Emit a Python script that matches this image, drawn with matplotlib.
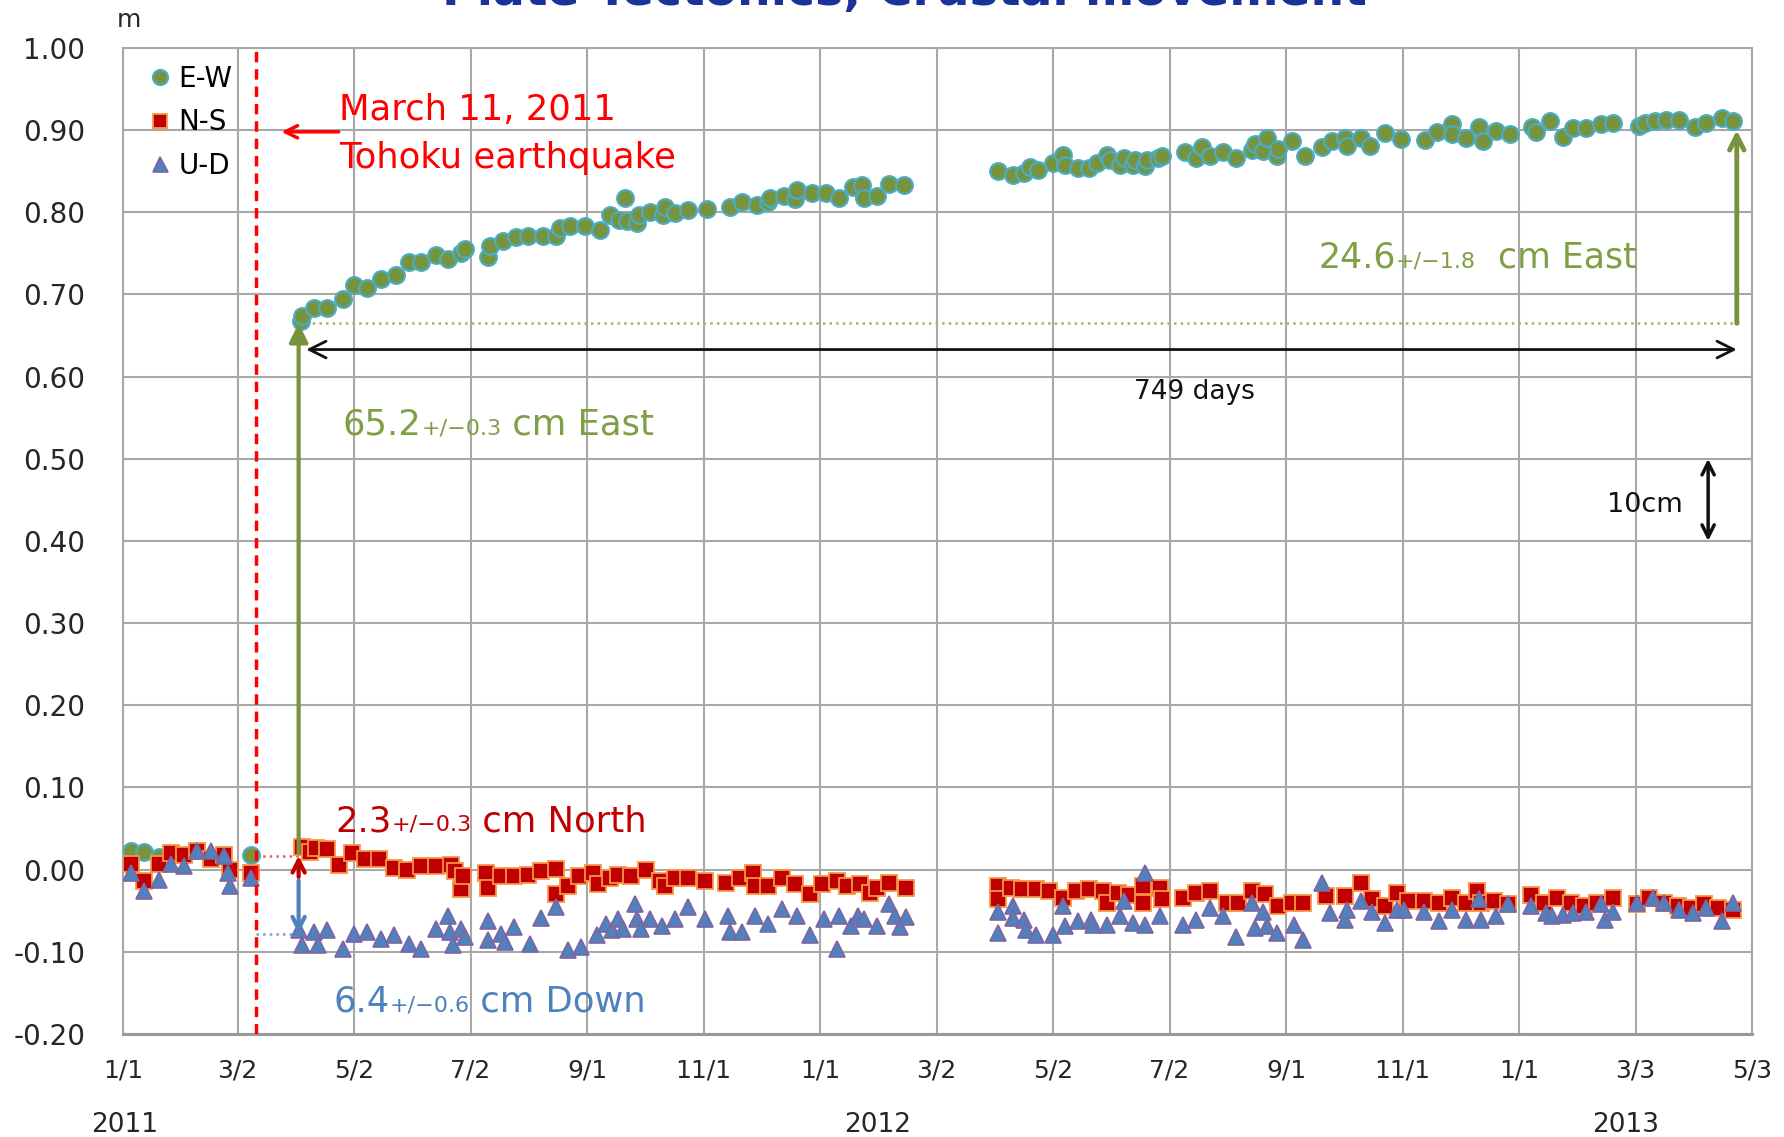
import numpy as np
import matplotlib.pyplot as plt

plt.rcParams['font.family'] = ['DejaVu Sans']

BASE = np.datetime64('2011-01-01')

# x axis (Excel style date axis, one label every ~61 days)
tick_dates = ['2011-01-01', '2011-03-02', '2011-05-02', '2011-07-02', '2011-09-01',
              '2011-11-01', '2012-01-01', '2012-03-02', '2012-05-02', '2012-07-02',
              '2012-09-01', '2012-11-01', '2013-01-01', '2013-03-03', '2013-05-03']
tick_labels = ['1/1', '3/2', '5/2', '7/2', '9/1', '11/1', '1/1', '3/2', '5/2', '7/2',
               '9/1', '11/1', '1/1', '3/3', '5/3']
year_labels = ['2011', '2012', '2013']
year_dates = ['2011-01-02', '2012-01-31', '2013-02-26']
y_ticks = [-0.2, -0.1, 0.0, 0.1, 0.2, 0.3, 0.4, 0.5, 0.6, 0.7, 0.8, 0.9, 1.0]

quake_date = '2011-03-11'

# series, x = days since 2011-01-01, y = displacement in m
ew_day = [4, 11, 19, 67,
          93, 94, 100, 107, 115, 121, 128, 135, 143, 150, 156, 164, 170, 177, 179, 191,
          192, 199, 206, 212, 220, 227, 229, 234, 242, 250, 255, 260, 263, 264, 269, 270,
          276, 283, 284, 289, 296, 306, 318, 324, 332, 338, 339, 346, 352, 353, 361, 368,
          375, 382, 387, 388, 395, 401, 409,
          458, 466, 472, 475, 479, 487, 492, 493, 500, 506, 510, 515, 517, 522, 524, 529,
          530, 535, 536, 542, 544, 556, 562, 565, 569, 576, 583, 591, 593, 597, 599, 604,
          605, 612, 619, 628, 633, 640, 641, 648, 653, 661, 669, 682, 688, 696, 696, 703,
          710, 712, 719, 726, 738, 740, 747, 754, 759, 766, 774, 780, 794, 797, 802, 808,
          815, 823, 829, 837, 843]
ew_val = [0.023, 0.022, 0.016, 0.018,
          0.668, 0.674, 0.684, 0.684, 0.695, 0.711, 0.708, 0.719, 0.724, 0.740, 0.740, 0.748,
          0.743, 0.751, 0.755, 0.746, 0.759, 0.765, 0.770, 0.771, 0.771, 0.771, 0.781, 0.783,
          0.783, 0.778, 0.797, 0.791, 0.817, 0.789, 0.787, 0.797, 0.800, 0.797, 0.806, 0.799,
          0.803, 0.804, 0.807, 0.813, 0.809, 0.813, 0.817, 0.820, 0.816, 0.827, 0.823, 0.823,
          0.818, 0.831, 0.833, 0.818, 0.820, 0.834, 0.833,
          0.850, 0.845, 0.848, 0.855, 0.852, 0.860, 0.870, 0.858, 0.854, 0.854, 0.860, 0.870,
          0.864, 0.858, 0.866, 0.857, 0.864, 0.856, 0.864, 0.866, 0.868, 0.873, 0.866, 0.880,
          0.868, 0.874, 0.866, 0.876, 0.883, 0.875, 0.891, 0.869, 0.877, 0.887, 0.869, 0.879,
          0.887, 0.891, 0.881, 0.891, 0.881, 0.897, 0.889, 0.888, 0.898, 0.907, 0.895, 0.891,
          0.904, 0.887, 0.899, 0.895, 0.904, 0.898, 0.911, 0.892, 0.903, 0.903, 0.907, 0.909,
          0.905, 0.909, 0.911, 0.912, 0.912, 0.904, 0.909, 0.915, 0.911]

ns_day = [4, 11, 19, 25, 32, 39, 46, 53, 56, 67,
          94, 98, 101, 107, 113, 120, 127, 134, 142, 149, 156, 164, 172, 174, 177, 178,
          190, 191, 198, 205, 212, 219, 227, 227, 233, 239, 246, 249, 255, 259, 266, 274,
          281, 284, 289, 296, 305, 316, 323, 330, 331, 338, 345, 352, 360, 366, 374, 379,
          386, 391, 395, 401, 410,
          458, 458, 465, 471, 478, 485, 492, 499, 506, 513, 515, 521, 527, 534, 534, 543,
          544, 555, 562, 569, 578, 584, 591, 598, 605, 612, 618, 630, 640, 648, 654, 661,
          667, 673, 681, 689, 696, 703, 709, 711, 718, 725, 737, 744, 751, 758, 765, 772,
          780, 793, 799, 807, 814, 821, 828, 835, 843]
ns_val = [0.007, -0.014, 0.007, 0.020, 0.018, 0.023, 0.013, 0.018, 0.000, -0.004,
          0.028, 0.022, 0.026, 0.025, 0.006, 0.020, 0.013, 0.013, 0.002, 0.000, 0.004, 0.004,
          0.006, -0.002, -0.024, -0.008, -0.004, -0.022, -0.008, -0.008, -0.006, -0.002,
          0.001, -0.030, -0.020, -0.008, -0.004, -0.018, -0.010, -0.006, -0.008, 0.000,
          -0.014, -0.020, -0.010, -0.010, -0.014, -0.016, -0.010, -0.004, -0.020, -0.020,
          -0.010, -0.018, -0.030, -0.018, -0.014, -0.020, -0.018, -0.028, -0.022, -0.016,
          -0.022,
          -0.020, -0.036, -0.022, -0.024, -0.024, -0.026, -0.034, -0.026, -0.024, -0.026,
          -0.040, -0.028, -0.031, -0.020, -0.040, -0.022, -0.036, -0.034, -0.028, -0.026,
          -0.040, -0.040, -0.026, -0.030, -0.044, -0.040, -0.040, -0.032, -0.032, -0.016,
          -0.036, -0.044, -0.028, -0.038, -0.038, -0.040, -0.034, -0.040, -0.026, -0.040,
          -0.038, -0.042, -0.031, -0.040, -0.034, -0.040, -0.044, -0.040, -0.035, -0.042,
          -0.035, -0.040, -0.044, -0.047, -0.042, -0.047, -0.049]

ud_day = [4, 11, 19, 25, 32, 39, 46, 53, 55, 56, 67,
          92, 94, 100, 102, 107, 115, 121, 128, 135, 142, 150, 156, 164, 170, 171, 173,
          177, 179, 191, 191, 198, 200, 205, 213, 219, 227, 233, 240, 248, 253, 256, 259,
          262, 268, 269, 271, 276, 282, 289, 296, 305, 317, 318, 324, 331, 338, 345, 353,
          360, 367, 374, 375, 381, 385, 388, 395, 401, 404, 407, 410,
          458, 458, 466, 466, 472, 473, 478, 487, 492, 493, 500, 507, 508, 515, 522, 524,
          529, 535, 535, 543, 555, 562, 569, 576, 583, 591, 593, 597, 599, 604, 613, 618,
          628, 632, 640, 641, 648, 654, 661, 667, 671, 681, 689, 696, 703, 710, 711, 719,
          725, 737, 745, 748, 754, 759, 766, 774, 776, 780, 793, 801, 807, 815, 822, 829,
          837, 843]
ud_val = [-0.004, -0.026, -0.012, 0.007, 0.005, 0.023, 0.023, 0.017, -0.004, -0.020, -0.010,
          -0.074, -0.092, -0.076, -0.092, -0.074, -0.096, -0.078, -0.076, -0.084, -0.080,
          -0.090, -0.096, -0.072, -0.056, -0.076, -0.092, -0.072, -0.082, -0.062, -0.086,
          -0.078, -0.088, -0.070, -0.090, -0.059, -0.046, -0.098, -0.094, -0.080, -0.066,
          -0.074, -0.060, -0.072, -0.042, -0.060, -0.072, -0.060, -0.068, -0.060, -0.046,
          -0.060, -0.056, -0.076, -0.076, -0.056, -0.066, -0.048, -0.056, -0.080, -0.060,
          -0.096, -0.056, -0.068, -0.056, -0.060, -0.068, -0.042, -0.056, -0.070, -0.058,
          -0.051, -0.077, -0.044, -0.059, -0.061, -0.073, -0.080, -0.080, -0.044, -0.069,
          -0.063, -0.061, -0.067, -0.067, -0.057, -0.038, -0.065, -0.004, -0.067, -0.057,
          -0.067, -0.061, -0.047, -0.057, -0.082, -0.040, -0.071, -0.051, -0.069, -0.077,
          -0.067, -0.086, -0.016, -0.053, -0.061, -0.049, -0.038, -0.051, -0.065, -0.049,
          -0.049, -0.051, -0.063, -0.049, -0.061, -0.036, -0.061, -0.057, -0.042, -0.044,
          -0.053, -0.057, -0.055, -0.053, -0.051, -0.042, -0.061, -0.051, -0.040, -0.034,
          -0.040, -0.049, -0.053, -0.047, -0.063, -0.040]


def day(s):
    return int((np.datetime64(s) - BASE).astype(int))


fig = plt.figure(figsize=(17.84, 11.37), dpi=100)
ax = fig.add_axes([0.0689, 0.0906, 0.9132, 0.8672])

ax.plot(ew_day, ew_val, 'o', ls='none', ms=12, mfc='#77933c', mec='#4bacc6', mew=1.6,
        label='E-W', zorder=3)
ax.plot(ns_day, ns_val, 's', ls='none', ms=11, mfc='#c00000', mec='#f79646', mew=1.3,
        label='N-S', zorder=4)
ax.plot(ud_day, ud_val, '^', ls='none', ms=12, mfc='#4f81bd', mec='#8064a2', mew=1.2,
        label='U-D', zorder=5)

ax.set_xlim(day(tick_dates[0]), day(tick_dates[-1]))
ax.set_ylim(-0.2, 1.0)
ax.set_xticks([day(d) for d in tick_dates])
ax.set_xticklabels(tick_labels, fontsize=18, color='#262626')
ax.set_yticks(y_ticks)
ax.set_yticklabels([f'{round(v, 2) + 0.0:.2f}' for v in y_ticks], fontsize=20, color='#262626')
ax.tick_params(axis='x', length=0, pad=18)
ax.tick_params(axis='y', length=0, pad=27)
ax.grid(True, color='#a8a8a8', lw=1.5)
ax.set_axisbelow(True)
for sp in ax.spines.values():
    sp.set_color('#a8a8a8')
    sp.set_linewidth(1.5)
ax.spines['bottom'].set_color('#999999')
ax.spines['bottom'].set_linewidth(2.2)

for lab, d in zip(year_labels, year_dates):
    ax.text(day(d), -0.092, lab, transform=ax.get_xaxis_transform(), ha='center',
            va='center', fontsize=19, color='#262626')
ax.text(-0.004, 1.028, 'm', transform=ax.transAxes, fontsize=18, color='#262626',
        ha='left', va='center')

ax.legend(loc='upper left', bbox_to_anchor=(0.017, 0.983), frameon=False, fontsize=20,
          handlelength=0.7, handletextpad=0.3, labelspacing=0.56, borderpad=0,
          borderaxespad=0, markerscale=0.9)

# earthquake marker
qd = day(quake_date) + 0.5
ax.axvline(qd, color='#ff0000', lw=2.5, ls=(0, (3, 2)), zorder=6)
ax.annotate('', xy=(83, 0.898), xytext=(113, 0.898),
            arrowprops=dict(arrowstyle='->', color='#ff0000', lw=2.5,
                            mutation_scale=22, shrinkA=0, shrinkB=0))
ax.text(113, 0.924, 'March 11, 2011', color='#ff0000', fontsize=25.5, va='center')
ax.text(113, 0.866, 'Tohoku earthquake', color='#ff0000', fontsize=25.5, va='center')

# displacement guides
ax.plot([92, 846], [0.665, 0.665], ls=':', color='#9bbb59', lw=1.8, zorder=2)
ax.plot([qd, 92], [0.017, 0.017], ls=':', color='#e06060', lw=1.8, zorder=2)
ax.plot([qd, 92], [-0.078, -0.078], ls=':', color='#7aa0d0', lw=1.8, zorder=2)

ax.annotate('', xy=(92, 0.665), xytext=(92, 0.02),
            arrowprops=dict(arrowstyle='-|>', color='#77933c', lw=3,
                            mutation_scale=28, shrinkA=0, shrinkB=0), zorder=7)
ax.annotate('', xy=(92, 0.017), xytext=(92, -0.009),
            arrowprops=dict(arrowstyle='->', color='#c00000', lw=3,
                            mutation_scale=22, shrinkA=0, shrinkB=0), zorder=7)
ax.annotate('', xy=(92, -0.078), xytext=(92, -0.013),
            arrowprops=dict(arrowstyle='->', color='#4f81bd', lw=3,
                            mutation_scale=22, shrinkA=0, shrinkB=0), zorder=7)
ax.annotate('', xy=(845, 0.90), xytext=(845, 0.665),
            arrowprops=dict(arrowstyle='->', color='#77933c', lw=3.5,
                            mutation_scale=26, shrinkA=0, shrinkB=0), zorder=7)

ax.annotate('', xy=(96, 0.633), xytext=(845, 0.633),
            arrowprops=dict(arrowstyle='<->', color='#111111', lw=2,
                            mutation_scale=30, shrinkA=0, shrinkB=0), zorder=7)
ax.text(561, 0.581, '749 days', ha='center', va='center', fontsize=19, color='#111111')

ax.annotate('', xy=(830, 0.50), xytext=(830, 0.40),
            arrowprops=dict(arrowstyle='<->', color='#111111', lw=2.5,
                            mutation_scale=22, shrinkA=0, shrinkB=0), zorder=7)
ax.text(797, 0.444, '10cm', ha='center', va='center', fontsize=19.5, color='#111111')


def label_with_error(x, y, value, err, unit, color, big=25.5, small=16):
    shift = 0.236 * (big - small)
    t = ax.text(x, y, value, fontsize=big, color=color, va='baseline')
    t2 = ax.annotate(err, xy=(1, 0), xycoords=t, xytext=(0, shift),
                     textcoords='offset points', fontsize=small, color=color, va='bottom')
    ax.annotate(unit, xy=(1, 0), xycoords=t2, xytext=(0, -shift),
                textcoords='offset points', fontsize=big, color=color, va='bottom')


label_with_error(115, 0.530, '65.2', '+/\u22120.3', ' cm East', '#7f9f45')
label_with_error(626, 0.733, '24.6', '+/\u22121.8', '  cm East', '#7f9f45', big=25)
label_with_error(111, 0.047, '2.3', '+/\u22120.3', ' cm North', '#c00000')
label_with_error(110, -0.173, '6.4', '+/\u22120.6', ' cm Down', '#4f81bd')

# title sits mostly above the top edge, as in the source image
fig.text(0.507, 1 - 5 / 1137, 'Plate Tectonics, Crustal movement', ha='center',
         va='baseline', fontsize=34, fontweight='bold', color='#1a3399')

fig.savefig('out.png', dpi=100)
